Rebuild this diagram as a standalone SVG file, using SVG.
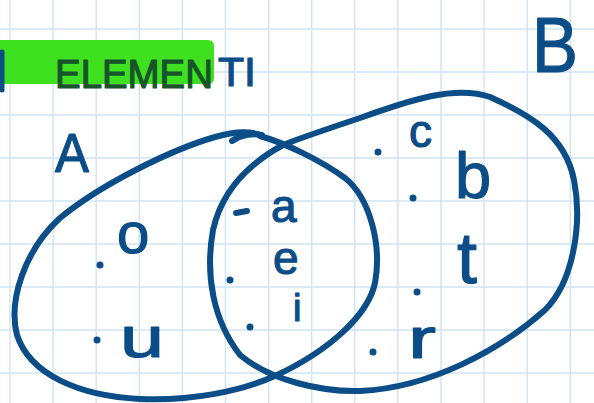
<svg xmlns="http://www.w3.org/2000/svg" width="594" height="403" viewBox="0 0 594 403">
<defs>
<style>
.grid line{stroke:#cfe3f4;stroke-width:1.4}
.ink{fill:none;stroke:#0b4d87;stroke-width:6;stroke-linecap:round;stroke-linejoin:round}
.t{font-family:"Liberation Sans",Arial,sans-serif;fill:#0b4d87;stroke:#0b4d87;stroke-width:1.2;stroke-linejoin:round}
.dot{fill:#0b4d87}
</style>
</defs>
<rect width="594" height="403" fill="#ffffff"/>
<g class="grid" id="grid">
<line x1="10" y1="0" x2="10" y2="403"/><line x1="53.1" y1="0" x2="53.1" y2="403"/><line x1="96.2" y1="0" x2="96.2" y2="403"/><line x1="139.3" y1="0" x2="139.3" y2="403"/><line x1="182.4" y1="0" x2="182.4" y2="403"/><line x1="225.5" y1="0" x2="225.5" y2="403"/><line x1="268.6" y1="0" x2="268.6" y2="403"/><line x1="311.7" y1="0" x2="311.7" y2="403"/><line x1="354.8" y1="0" x2="354.8" y2="403"/><line x1="397.9" y1="0" x2="397.9" y2="403"/><line x1="441" y1="0" x2="441" y2="403"/><line x1="484.1" y1="0" x2="484.1" y2="403"/><line x1="527.2" y1="0" x2="527.2" y2="403"/><line x1="570.3" y1="0" x2="570.3" y2="403"/>
<line x1="0" y1="29" x2="594" y2="29"/><line x1="0" y1="72" x2="594" y2="72"/><line x1="0" y1="115" x2="594" y2="115"/><line x1="0" y1="158" x2="594" y2="158"/><line x1="0" y1="201" x2="594" y2="201"/><line x1="0" y1="244" x2="594" y2="244"/><line x1="0" y1="287" x2="594" y2="287"/><line x1="0" y1="330" x2="594" y2="330"/><line x1="0" y1="373" x2="594" y2="373"/>
</g>
<g id="title">
<path d="M0 40 H208 Q214 40 214 46 V78 Q214 84 208 84 H0 Z" fill="#3fe01f"/>
<path d="M2 52 L2 90" stroke="#0b4d87" stroke-width="5" fill="none" stroke-linecap="round"/>
<text class="t" x="55" y="88" font-size="40" textLength="158" lengthAdjust="spacingAndGlyphs" style="fill:#16552a;stroke:#16552a">ELEMEN</text>
<text class="t" x="218" y="86" font-size="40" textLength="38" lengthAdjust="spacingAndGlyphs">TI</text>
</g>
<g id="connectors"></g>
<g id="setA">
<path class="ink" d="M260 136 C285 143 320 160 345 178 C370 198 382 245 375 283 C368 315 330 350 277 375 C240 392 190 401 140 399 C80 396 30 375 17 335 C8 300 25 250 60 218 C100 185 170 150 215 137 C235 131 252 131 262 136"/>
<path class="ink" d="M232 141 C240 135 252 133 262 135"/>
<text class="t" x="55" y="172" font-size="56" textLength="34" lengthAdjust="spacingAndGlyphs">A</text>
<circle class="dot" cx="100" cy="265" r="3.5"/>
<text class="t" x="117" y="253" font-size="58">o</text>
<circle class="dot" cx="97" cy="340" r="3.5"/>
<text class="t" x="120" y="357" font-size="58" textLength="44" lengthAdjust="spacingAndGlyphs">u</text>
</g>
<g id="setB">
<path class="ink" d="M283 145 C250 163 222 190 213 230 C205 275 213 320 240 355 C270 380 320 392 360 391 C430 388 500 350 545 310 C575 280 582 220 574 180 C565 135 530 115 490 97 C455 85 410 100 360 118 C330 128 300 138 283 145 Z"/>
<text class="t" x="532" y="72" font-size="78" textLength="46" lengthAdjust="spacingAndGlyphs">B</text>
<circle class="dot" cx="378" cy="152" r="3.5"/>
<text class="t" x="409" y="147" font-size="46">c</text>
<circle class="dot" cx="413" cy="198" r="3.5"/>
<text class="t" x="455" y="198" font-size="65">b</text>
<circle class="dot" cx="417" cy="292" r="3.5"/>
<text class="t" x="457" y="283" font-size="72">t</text>
<circle class="dot" cx="373" cy="352" r="3.5"/>
<text class="t" x="408" y="358" font-size="58" textLength="28" lengthAdjust="spacingAndGlyphs">r</text>
</g>
<g id="intersection">
<path class="ink" d="M236 213 L247 211" stroke-width="5"/>
<text class="t" x="271" y="222" font-size="46">a</text>
<circle class="dot" cx="230" cy="280" r="3.5"/>
<text class="t" x="273" y="274" font-size="46">e</text>
<circle class="dot" cx="250" cy="327" r="3.5"/>
<text class="t" x="293" y="321" font-size="38">i</text>
</g>
</svg>
